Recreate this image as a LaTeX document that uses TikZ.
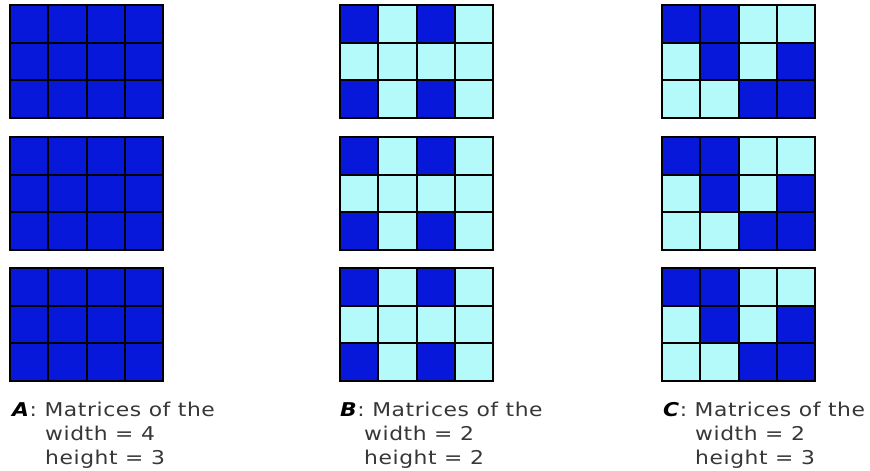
\documentclass[tikz,border=0pt]{standalone}
\usepackage{fontspec}
\setmainfont[FakeStretch=1.15,LetterSpace=3]{DejaVu Sans}
\definecolor{D}{RGB}{8,24,218}
\definecolor{L}{RGB}{180,250,250}
\definecolor{txt}{RGB}{55,55,55}
\newcommand\drawgrid[3]{%
  \foreach \k [count=\i from 0] in {#3} {
    \pgfmathtruncatemacro\cc{mod(\i,4)}
    \pgfmathtruncatemacro\rr{\i/4}
    \fill[\k] ({#1+\cc*38.25},{#2+\rr*37.67}) rectangle ++(38.25,37.67);
  }
  \foreach \j in {0,...,4} {\draw[gridline] ({#1+\j*38.25},#2) -- ++(0,113);}
  \foreach \j in {0,...,3} {\draw[gridline] (#1,{#2+\j*37.67}) -- ++(153,0);}
}
\begin{document}
\begin{tikzpicture}[x=1pt,y=-1pt,
  gridline/.style={line width=2pt,black,line cap=rect},
  lbl/.style={anchor=base west,inner sep=0pt,text=txt,font=\fontsize{19}{23}\selectfont}]
\useasboundingbox (0,0) rectangle (870,471);
\fill[white] (0,0) rectangle (870,471);
% column A
\foreach \y in {5,137,268} {\drawgrid{10}{\y}{D,D,D,D,D,D,D,D,D,D,D,D}}
% column B
\foreach \y in {5,137,268} {\drawgrid{340}{\y}{D,L,D,L,L,L,L,L,D,L,D,L}}
% column C
\foreach \y in {5,137,268} {\drawgrid{662}{\y}{D,D,L,L,L,D,L,D,L,L,D,D}}
% labels
\node[lbl] (a1) at (12,416) {\textcolor{black}{\textbf{\textit{A}}}: Matrices of the};
\node[lbl] (a2) at (45,440) {width = 4};
\node[lbl] (a3) at (45,464) {height = 3};
\node[lbl] (b1) at (340,416) {\textcolor{black}{\textbf{\textit{B}}}: Matrices of the};
\node[lbl] (b2) at (364,440) {width = 2};
\node[lbl] (b3) at (364,464) {height = 2};
\node[lbl] (c1) at (663,416) {\textcolor{black}{\textbf{\textit{C}}}: Matrices of the};
\node[lbl] (c2) at (695,440) {width = 2};
\node[lbl] (c3) at (695,464) {height = 3};
\end{tikzpicture}
\end{document}
